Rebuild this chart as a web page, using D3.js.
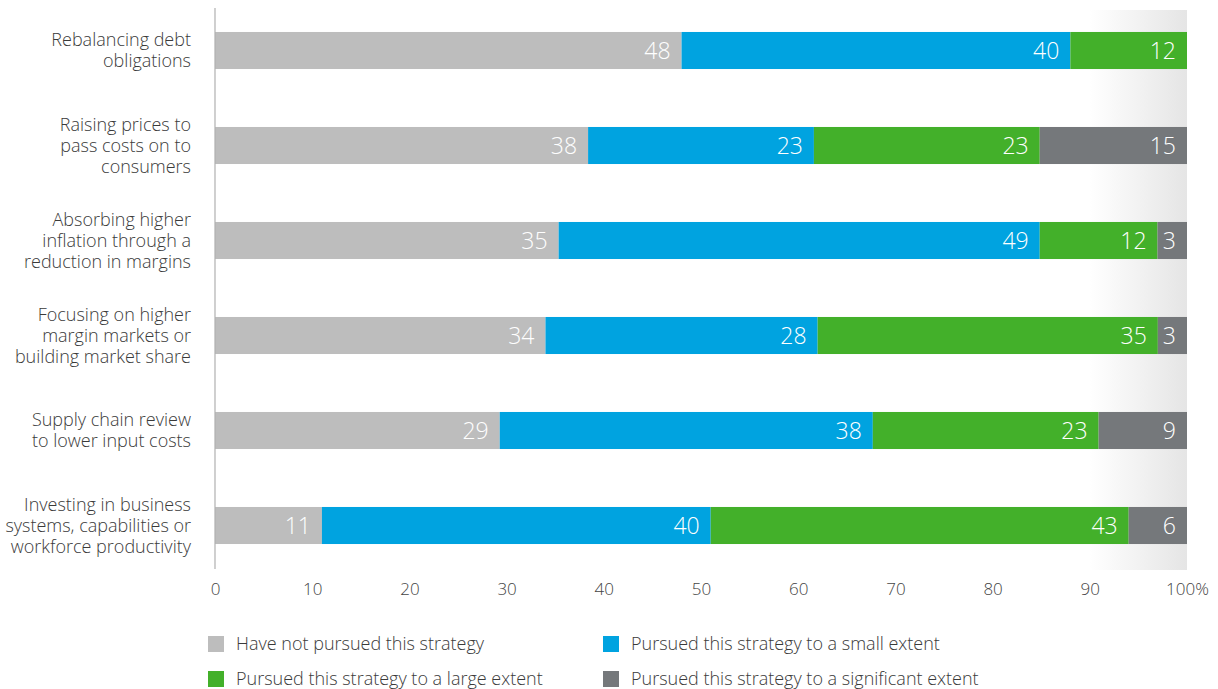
<!DOCTYPE html>
<html>
<head>
<meta charset="utf-8">
<script src="https://cdn.jsdelivr.net/npm/d3@7"></script>
<style>
  html, body { margin: 0; padding: 0; background: #ffffff; }
  svg { display: block; font-family: "Open Sans", "Noto Sans", sans-serif; }
</style>
</head>
<body>
<svg id="chart" width="1218" height="689"></svg>
<script>
// Strategy categories (each line of a wrapped label is its own entry)
const categories = [
  ["Rebalancing debt", "obligations"],
  ["Raising prices to", "pass costs on to", "consumers"],
  ["Absorbing higher", "inflation through a", "reduction in margins"],
  ["Focusing on higher", "margin markets or", "building market share"],
  ["Supply chain review", "to lower input costs"],
  ["Investing in business", "systems, capabilities or", "workforce productivity"]
];

// Share of respondents (%) per response, one array per series
const notPursued  = [48, 38, 35, 34, 29, 11];
const smallExtent = [40, 23, 49, 28, 38, 40];
const largeExtent = [12, 23, 12, 35, 23, 43];
const significant = [0, 15, 3, 3, 9, 6];

const seriesNames = [
  "Have not pursued this strategy",
  "Pursued this strategy to a small extent",
  "Pursued this strategy to a large extent",
  "Pursued this strategy to a significant extent"
];
const seriesColors = ["#bdbdbd", "#00a3e0", "#43b02a", "#75787b"];

const tickValues = [0, 10, 20, 30, 40, 50, 60, 70, 80, 90, 100];

const rows = categories.map((c, i) => ({
  key: i,
  s0: notPursued[i],
  s1: smallExtent[i],
  s2: largeExtent[i],
  s3: significant[i]
}));

const svg = d3.select("#chart");

const x = d3.scaleLinear().domain([0, 1]).range([215, 1187]);
const y = d3.scaleBand()
  .domain(rows.map(r => r.key))
  .range([3, 573])
  .paddingInner(0.61)
  .paddingOuter(0.305);

// Soft grey fade at the right end of the plot
const defs = svg.append("defs");
const grad = defs.append("linearGradient").attr("id", "fade")
  .attr("x1", "0%").attr("x2", "100%").attr("y1", "0%").attr("y2", "0%");
grad.append("stop").attr("offset", "0%").attr("stop-color", "#ffffff");
grad.append("stop").attr("offset", "100%").attr("stop-color", "#e5e5e5");
svg.append("rect")
  .attr("x", x(0.9)).attr("y", 10)
  .attr("width", x(1) - x(0.9)).attr("height", 560)
  .attr("fill", "url(#fade)");

// Stacked bars, each row normalised to 100%
const stack = d3.stack().keys(["s0", "s1", "s2", "s3"]).offset(d3.stackOffsetExpand);
const stacked = stack(rows);

const layers = svg.append("g").selectAll("g")
  .data(stacked)
  .join("g")
  .attr("fill", (d, i) => seriesColors[i]);

layers.selectAll("rect")
  .data(d => d.filter(p => p[1] - p[0] > 0))
  .join("rect")
  .attr("x", d => x(d[0]))
  .attr("y", d => y(d.data.key))
  .attr("width", d => x(d[1]) - x(d[0]))
  .attr("height", y.bandwidth());

// Value labels at the right end of each segment
stacked.forEach((layer, li) => {
  svg.append("g").selectAll("text")
    .data(layer.filter(p => p.data[layer.key] > 0))
    .join("text")
    .attr("x", d => x(d[1]) - 11)
    .attr("y", d => y(d.data.key) + y.bandwidth() / 2)
    .attr("dy", "0.36em")
    .attr("text-anchor", "end")
    .attr("fill", "#ffffff")
    .attr("font-size", 23)
    .attr("font-weight", 300)
    .text(d => d.data[layer.key]);
});

// Vertical axis line
svg.append("line")
  .attr("x1", x(0)).attr("x2", x(0))
  .attr("y1", 8).attr("y2", 569)
  .attr("stroke", "#b0b0b0").attr("stroke-width", 1.2);

// Category labels
const catG = svg.append("g").selectAll("text")
  .data(rows)
  .join("text")
  .attr("text-anchor", "end")
  .attr("fill", "#3a3a3a")
  .attr("font-size", 18)
  .attr("font-weight", 300);
catG.each(function (d, i) {
  const lines = categories[i];
  const cy = y(d.key) + y.bandwidth() / 2;
  const lh = 21;
  d3.select(this).selectAll("tspan")
    .data(lines)
    .join("tspan")
    .attr("x", 191)
    .attr("y", (l, j) => cy + (j - (lines.length - 1) / 2) * lh)
    .attr("dy", "0.36em")
    .text(l => l);
});

// Bottom tick labels
const xAxis = d3.axisBottom(x)
  .tickValues(tickValues.map(v => v / 100))
  .tickSize(0)
  .tickPadding(0)
  .tickFormat(v => Math.round(v * 100) + (v === 1 ? "%" : ""));
const axisG = svg.append("g").attr("transform", "translate(0,583)").call(xAxis);
axisG.select(".domain").remove();
axisG.selectAll("text")
  .attr("font-family", "\"Open Sans\", \"Noto Sans\", sans-serif")
  .attr("font-size", 17)
  .attr("font-weight", 300)
  .attr("fill", "#444");

// Legend in two columns
const legendPos = [[208, 644], [603, 644], [208, 679], [603, 679]];
const legend = svg.append("g").selectAll("g")
  .data(seriesNames)
  .join("g")
  .attr("transform", (d, i) => `translate(${legendPos[i][0]},${legendPos[i][1]})`);
legend.append("rect")
  .attr("x", 0).attr("y", -8).attr("width", 16).attr("height", 16)
  .attr("fill", (d, i) => seriesColors[i]);
legend.append("text")
  .attr("x", d => 28)
  .attr("dy", "0.36em")
  .attr("font-size", 18)
  .attr("font-weight", 300)
  .attr("fill", "#3a3a3a")
  .text(d => d);
</script>
</body>
</html>
